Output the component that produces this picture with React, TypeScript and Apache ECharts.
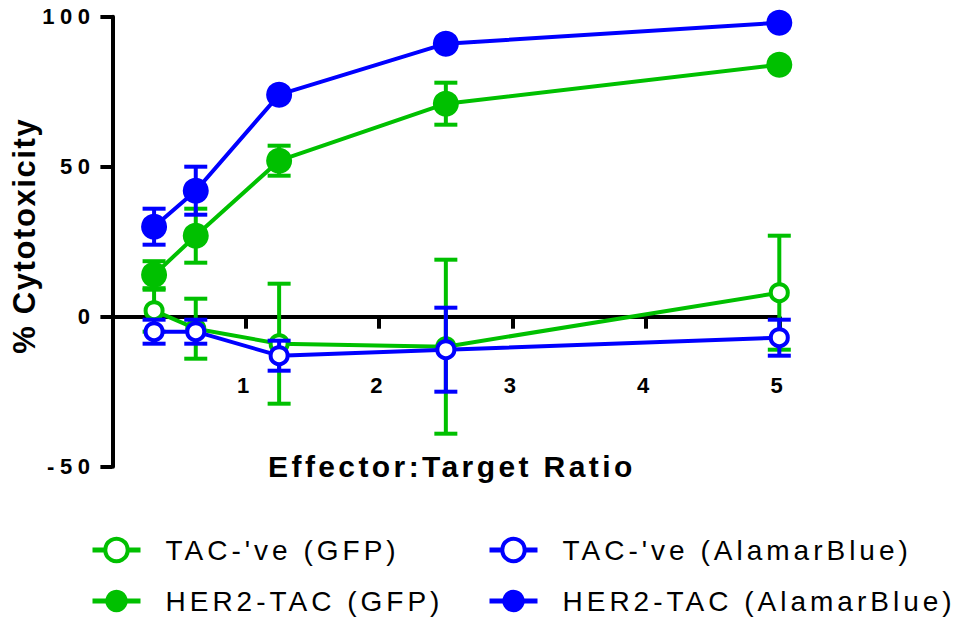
import React, { useEffect, useRef } from "react";
import * as echarts from "echarts";

// E:T ratios (x values)
const ratios = [0.3125, 0.625, 1.25, 2.5, 5];

// Series names
const names = [
  "TAC-'ve (GFP)",
  "HER2-TAC (GFP)",
  "TAC-'ve (AlamarBlue)",
  "HER2-TAC (AlamarBlue)",
];

// Mean % cytotoxicity
const tacNegGfp = [2, -4, -9, -10, 8];
const her2Gfp = [14, 27, 52, 71, 84];
const tacNegAlamar = [-5, -5, -13, -11, -7];
const her2Alamar = [30, 42, 74, 91, 98];

// Error (± SD)
const tacNegGfpErr = [7, 10, 20, 29, 19];
const her2GfpErr = [4.5, 9, 5, 7, 1];
const tacNegAlamarErr = [4, 4, 5, 14, 6];
const her2AlamarErr = [6, 8, 1, 1, 1];

// Axis ticks
const yTicks = [-50, 0, 50, 100];
const xTicks = [1, 2, 3, 4, 5];

const GREEN = "#00c000";
const BLUE = "#0000ff";
const FONT = "'Liberation Sans', Arial, Helvetica, sans-serif";

function lineSeries(name: string, vals: number[], color: string, open: boolean, z: number) {
  return {
    type: "line",
    name,
    z,
    data: ratios.map((x, i) => [x, vals[i]]),
    symbol: "circle",
    symbolSize: open ? 17 : 26,
    showAllSymbol: true,
    lineStyle: { color, width: 4 },
    itemStyle: open
      ? { color: "#ffffff", borderColor: color, borderWidth: 4 }
      : { color, borderColor: color, borderWidth: 0 },
    emphasis: { disabled: true },
  };
}

function errSeries(vals: number[], errs: number[], color: string, z: number) {
  return {
    type: "custom",
    z,
    silent: true,
    data: ratios.map((x, i) => [x, vals[i] - errs[i], vals[i] + errs[i]]),
    encode: { x: 0, y: [1, 2] },
    renderItem: (params: any, api: any) => {
      const x = api.value(0);
      const lo = api.coord([x, api.value(1)]);
      const hi = api.coord([x, api.value(2)]);
      const hw = 11.5;
      const style = { stroke: color, lineWidth: 4, fill: "none" };
      return {
        type: "group",
        children: [
          { type: "line", shape: { x1: lo[0], y1: lo[1], x2: hi[0], y2: hi[1] }, style },
          { type: "line", shape: { x1: hi[0] - hw, y1: hi[1], x2: hi[0] + hw, y2: hi[1] }, style },
          { type: "line", shape: { x1: lo[0] - hw, y1: lo[1], x2: lo[0] + hw, y2: lo[1] }, style },
        ],
      };
    },
  };
}

function legendItem(name: string, color: string, open: boolean) {
  return {
    name,
    itemStyle: open
      ? { color: "#ffffff", borderColor: color, borderWidth: 4 }
      : { color, borderColor: color, borderWidth: 0 },
    lineStyle: { color, width: 5 },
  };
}

export default function App() {
  const ref = useRef<HTMLDivElement>(null);

  useEffect(() => {
    if (!ref.current) return;
    const chart = echarts.init(ref.current, undefined, { renderer: "svg" });
    const legendCommon = {
      orient: "vertical",
      top: 536,
      padding: 0,
      itemWidth: 48,
      itemHeight: 28,
      itemGap: 23,
      selectedMode: false,
      textStyle: {
        fontFamily: FONT,
        fontSize: 28,
        lineHeight: 28,
        color: "#000",
        padding: [0, 0, 0, 20],
      },
    };
    chart.setOption({
      animation: false,
      grid: {
        left: 112.4,
        right: 183.7,
        top: 16.7,
        bottom: 155.3,
        containLabel: false,
        outerBoundsMode: "none",
      },
      xAxis: {
        type: "value",
        min: 0,
        max: 5,
        interval: 1,
        name: "Effector:Target Ratio",
        nameLocation: "middle",
        nameGap: -15,
        nameTextStyle: {
          fontFamily: FONT,
          fontSize: 30,
          fontWeight: "bold",
          color: "#000",
          padding: [0, 0, 0, 12],
        },
        axisLine: { onZero: true, lineStyle: { color: "#000", width: 4 } },
        axisTick: { show: true, length: 12, lineStyle: { color: "#000", width: 4 } },
        axisLabel: {
          margin: -92,
          fontFamily: FONT,
          fontSize: 22,
          fontWeight: "bold",
          color: "#000",
          formatter: (v: number) => (xTicks.includes(v) ? String(v) : ""),
        },
        splitLine: { show: false },
      },
      yAxis: {
        type: "value",
        min: yTicks[0],
        max: yTicks[yTicks.length - 1],
        interval: 50,
        name: "% Cytotoxicity",
        nameLocation: "middle",
        nameGap: 72,
        nameTextStyle: {
          fontFamily: FONT,
          fontSize: 31,
          fontWeight: "bold",
          color: "#000",
          padding: [0, 0, 0, 12],
        },
        axisLine: { show: true, lineStyle: { color: "#000", width: 4 } },
        axisTick: { show: true, length: 12, lineStyle: { color: "#000", width: 4 } },
        axisLabel: {
          margin: 17,
          fontFamily: FONT,
          fontSize: 22,
          fontWeight: "bold",
          color: "#000",
        },
        splitLine: { show: false },
      },
      legend: [
        {
          ...legendCommon,
          left: 90,
          data: [legendItem(names[0], GREEN, true), legendItem(names[1], GREEN, false)],
        },
        {
          ...legendCommon,
          left: 487,
          data: [legendItem(names[2], BLUE, true), legendItem(names[3], BLUE, false)],
        },
      ],
      series: [
        errSeries(tacNegGfp, tacNegGfpErr, GREEN, 2),
        errSeries(her2Gfp, her2GfpErr, GREEN, 2),
        lineSeries(names[0], tacNegGfp, GREEN, true, 3),
        lineSeries(names[1], her2Gfp, GREEN, false, 3),
        errSeries(tacNegAlamar, tacNegAlamarErr, BLUE, 4),
        errSeries(her2Alamar, her2AlamarErr, BLUE, 4),
        lineSeries(names[2], tacNegAlamar, BLUE, true, 5),
        lineSeries(names[3], her2Alamar, BLUE, false, 5),
      ],
    });
    return () => chart.dispose();
  }, []);

  return (
    <>
      <style>{`
        #chart text[style*="22px"] { letter-spacing: 5.5px; }
        #chart text[style*="30px"] { letter-spacing: 3.4px; }
        #chart text[style*="31px"] { letter-spacing: 1.6px; }
        #chart text[style*="28px"] { letter-spacing: 4px; }
      `}</style>
      <div
        id="chart"
        ref={ref}
        style={{ position: "fixed", left: 0, top: 0, width: 963, height: 622, background: "#fff" }}
      />
    </>
  );
}
